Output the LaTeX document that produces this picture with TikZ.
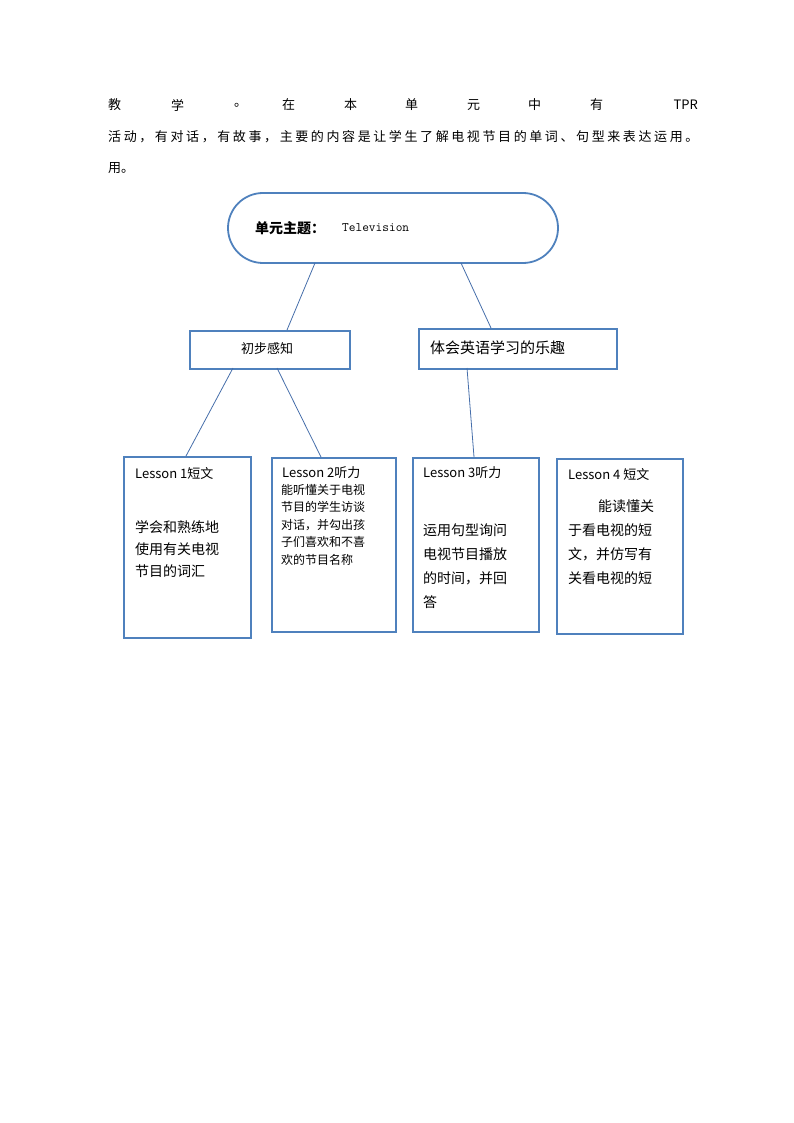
\documentclass[tikz,border=0pt]{standalone}
\usepackage{fontspec}
\setmainfont{Liberation Sans}
\newfontfamily\cjk{Noto Sans CJK SC}
\newfontfamily\cjkwide[LetterSpace=20]{Noto Sans CJK SC}
\usetikzlibrary{shapes,positioning}
\definecolor{boxblue}{RGB}{79,129,189}
\definecolor{linkblue}{RGB}{70,110,170}
\tikzstyle{lessonbox} = [rectangle, draw=boxblue, line width=1.6pt, anchor=north west, inner sep=0pt]
\tikzstyle{link} = [draw=linkblue, line width=0.8pt]
\tikzstyle{txt} = [anchor=west, inner sep=0pt, font=\cjk\fontsize{13}{20}\selectfont]
\begin{document}
\begin{tikzpicture}[x=1pt,y=-1pt]
\useasboundingbox (0,0) rectangle (794,1123);
% paragraph text
\foreach \c/\x in {教/108,学/171,。/234,在/282,本/344,单/405,元/467,中/528,有/590}
  \node[txt] at (\x,105) {\c};
\node[txt, anchor=east] at (698,105) {TPR};
\node[txt, anchor=west, font=\cjkwide\fontsize{13}{20}\selectfont] (para) at (108,137) {活动，有对话，有故事，主要的内容是让学生了解电视节目的单词、句型来表达运用。};
\node[txt] at (108,168) {用。};
% theme
\node (theme) [rectangle, rounded corners=35pt, draw=boxblue, line width=1.8pt, minimum width=330pt, minimum height=70pt] at (393,228) {};
\node[txt, font=\cjk\bfseries\fontsize{14}{16}\selectfont] at (255,228) {单元主题：};
\node[txt, font=\ttfamily\fontsize{13}{16}\selectfont] at (342,228) {Television};
% second level
\node (sense) [lessonbox, minimum width=160pt, minimum height=38pt] at (189,330) {};
\node[txt] at (241,349) {初步感知};
\node (fun) [lessonbox, minimum width=198pt, minimum height=40pt] at (418,328) {};
\node[txt, font=\cjk\fontsize{15}{18}\selectfont] at (430,348) {体会英语学习的乐趣};
% lessons
\node (lessonA) [lessonbox, minimum width=127pt, minimum height=181pt] at (123,456) {};
\node (lessonB) [lessonbox, minimum width=124pt, minimum height=174pt] at (271,457) {};
\node (lessonC) [lessonbox, minimum width=126pt, minimum height=174pt] at (412,457) {};
\node (lessonD) [lessonbox, minimum width=126pt, minimum height=175pt] at (556,458) {};
\node[txt] at (135,473) {Lesson 1短文};
\node[txt, align=left, anchor=north west, font=\cjk\fontsize{14}{22}\selectfont] at (135,520) {学会和熟练地\\使用有关电视\\节目的词汇};
\node[txt] at (282,473) {Lesson 2听力};
\node[txt, align=left, anchor=north west, font=\cjk\fontsize{12}{17.5}\selectfont] at (281,484) {能听懂关于电视\\节目的学生访谈\\对话，并勾出孩\\子们喜欢和不喜\\欢的节目名称};
\node[txt] at (423,473) {Lesson 3听力};
\node[txt, align=left, anchor=north west, font=\cjk\fontsize{14}{24}\selectfont] at (423,524) {运用句型询问\\电视节目播放\\的时间，并回\\答};
\node[txt] at (568,474) {Lesson 4 短文};
\node[txt, align=left, anchor=north west, font=\cjk\fontsize{14}{24}\selectfont] at (568,500) {\hspace{30pt}能读懂关\\于看电视的短\\文，并仿写有\\关看电视的短};
% connectors
\coordinate (tA) at (315,263); \coordinate (tB) at (461,263);
\coordinate (sA) at (233,368); \coordinate (sB) at (277,368); \coordinate (fA) at (467,368);
\draw[link] (tA) -- (287,330);
\draw[link] (tB) -- (491,328);
\draw[link] (sA) -- (186,456);
\draw[link] (sB) -- (321,457);
\draw[link] (fA) -- (474,457);
\end{tikzpicture}
\end{document}
